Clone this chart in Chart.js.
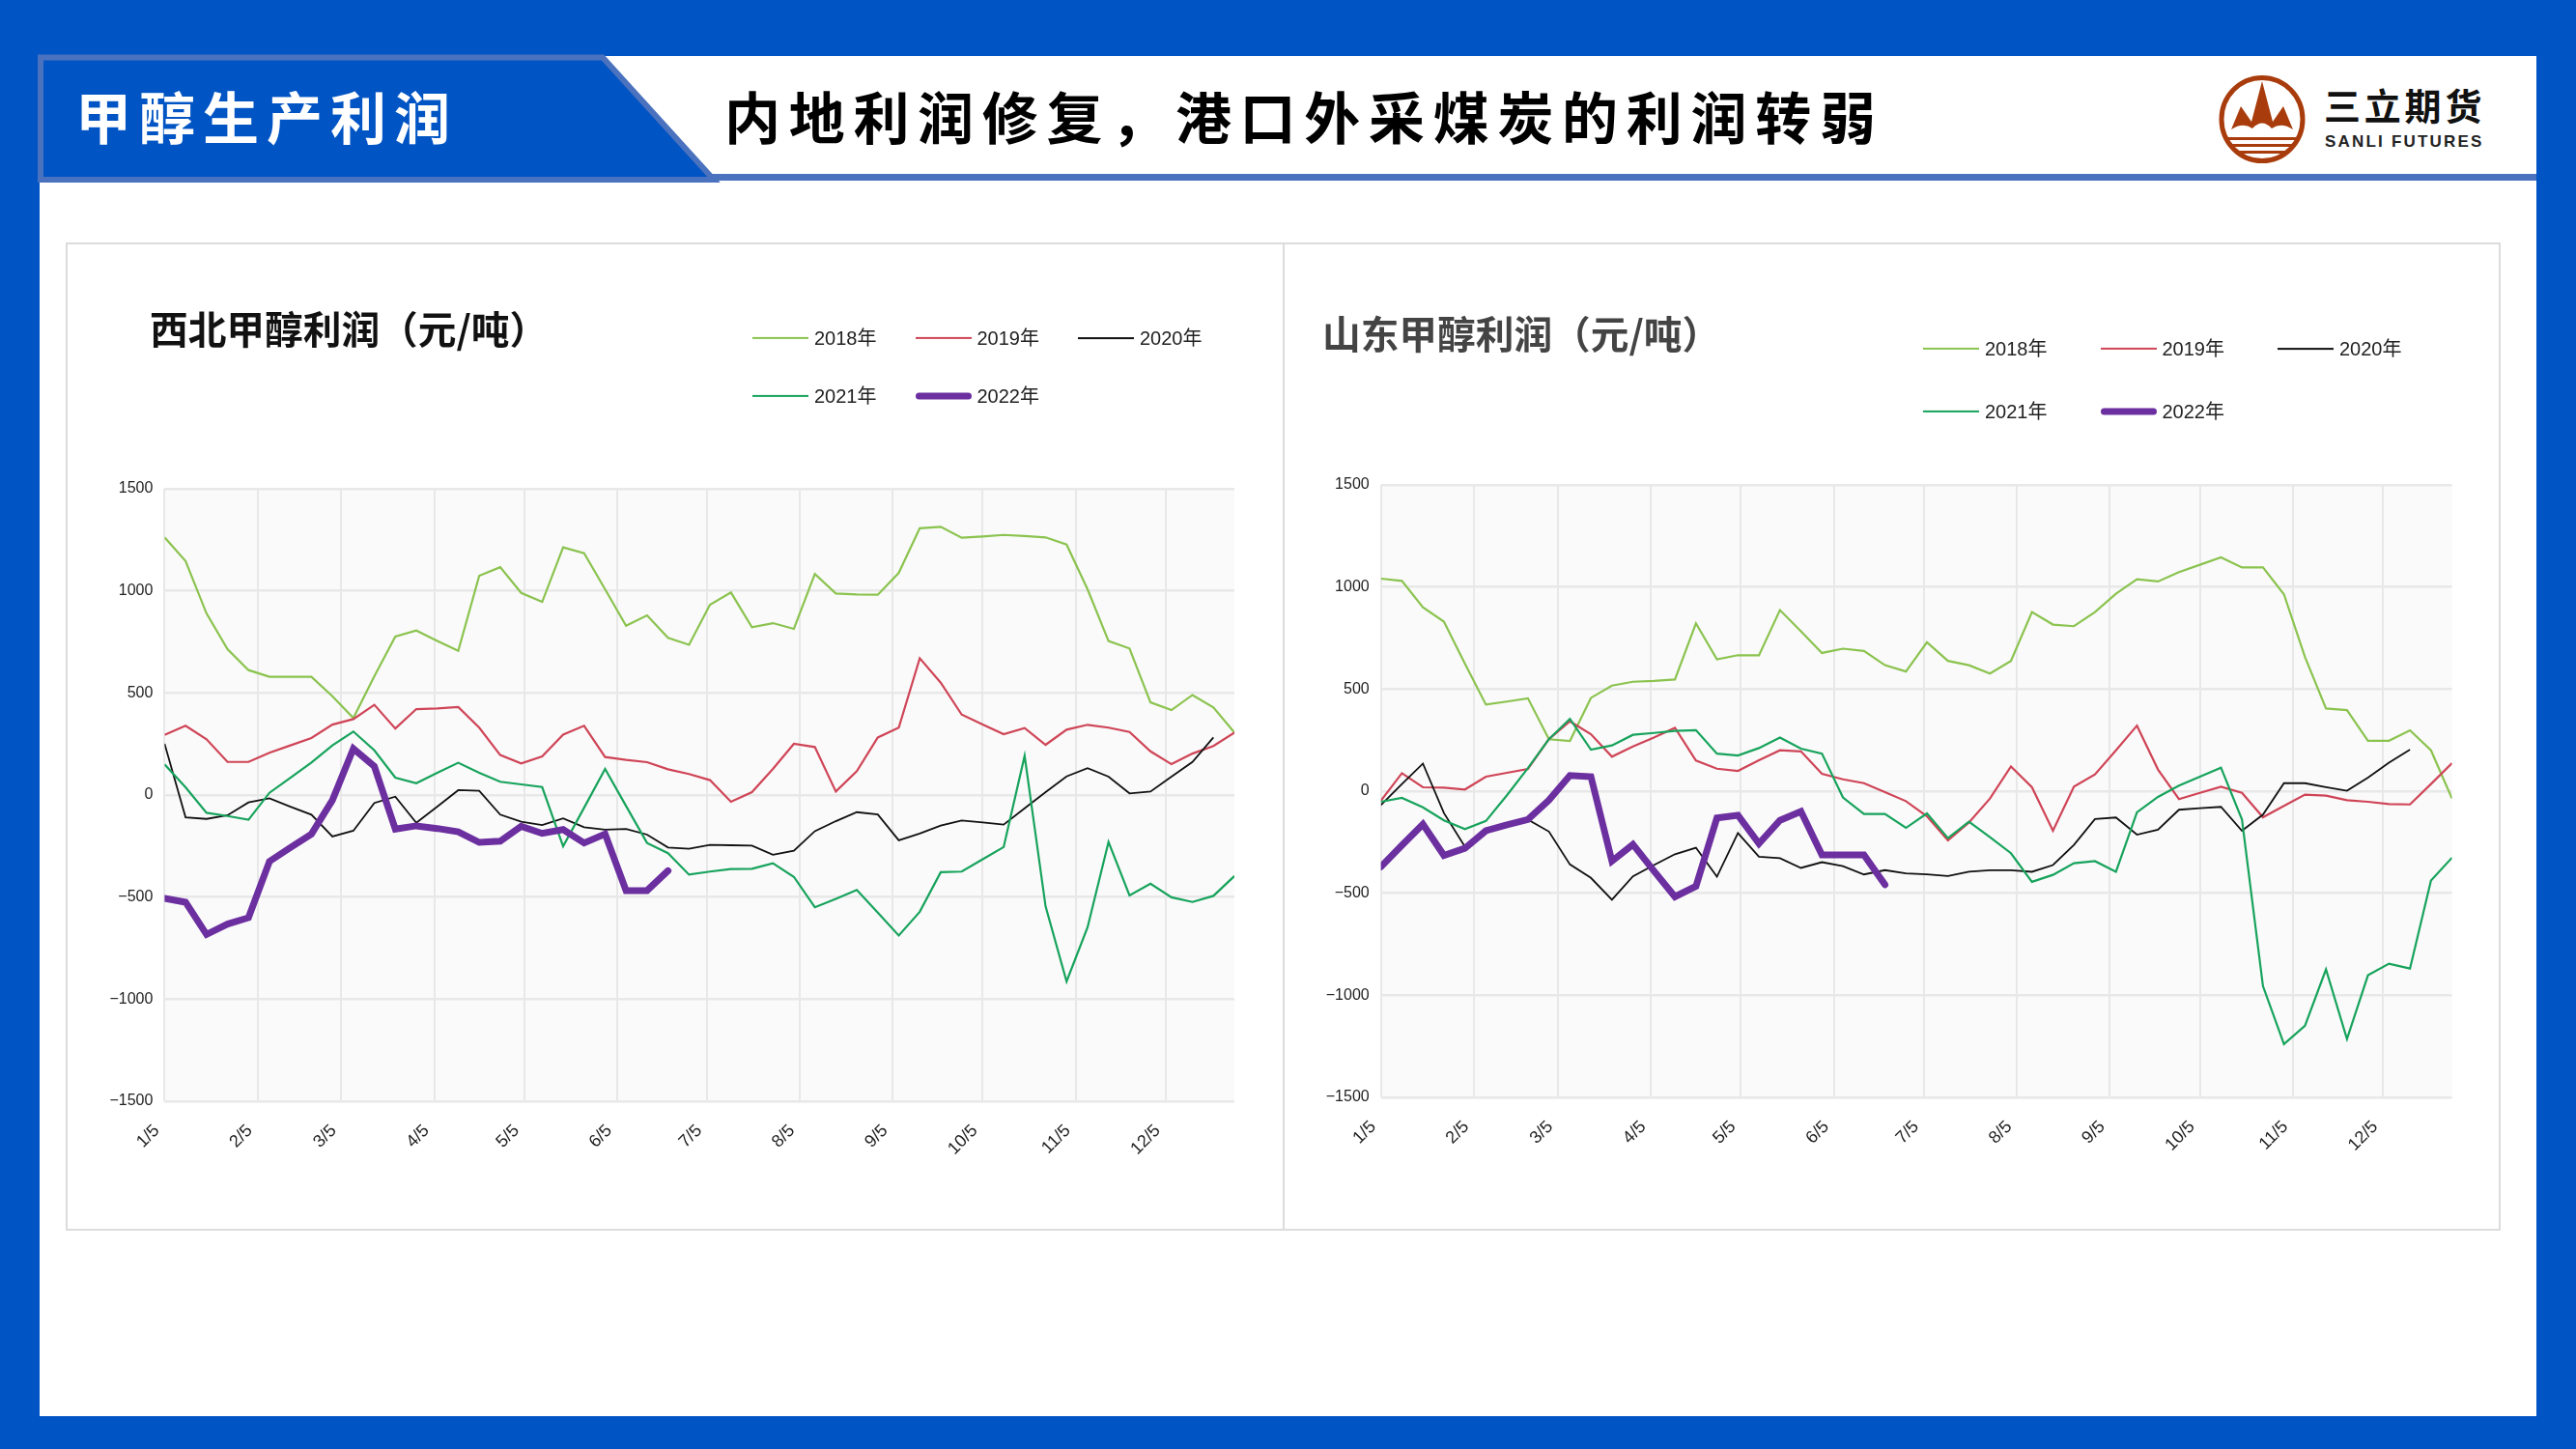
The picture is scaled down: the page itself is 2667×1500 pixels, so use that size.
<!DOCTYPE html>
<html lang="zh">
<head>
<meta charset="utf-8">
<title>甲醇生产利润</title>
<script src="https://cdn.jsdelivr.net/npm/chart.js@4"></script>
<style>
  html, body { margin: 0; padding: 0; }
  body { position: relative; width: 2667px; height: 1500px; overflow: hidden; background: #0054c4; font-family: "Noto Sans CJK SC", sans-serif; }
  .sheet { position: absolute; left: 41px; top: 58px; width: 2585px; height: 1408px; background: #fff; }
  .deco { position: absolute; left: 0; top: 0; }
  .head { position: absolute; white-space: nowrap; font-weight: 700; line-height: 80px; font-size: 58px; top: 79px; }
  #tag { left: 78px; color: #fff; letter-spacing: 8px; }
  #headline { left: 750px; color: #000; letter-spacing: 8.7px; }
  #logoCn { position: absolute; left: 2406px; top: 83px; font-size: 38px; line-height: 50px; font-weight: 700; letter-spacing: 3.8px; color: #111; white-space: nowrap; }
  #logoEn { position: absolute; left: 2407px; top: 137px; font: 700 17px/20px "Liberation Sans", sans-serif; letter-spacing: 2.2px; color: #222; white-space: nowrap; }
  .panel { position: absolute; top: 251px; height: 1023px; box-sizing: border-box; border: 2px solid #dcdcdc; background: #fff; }
  #panelA { left: 68px; width: 1262px; }
  #panelB { left: 1328px; width: 1261px; }
  canvas { position: absolute; left: 0; top: 0; }
  .chartTitle { position: absolute; white-space: nowrap; font-size: 39.7px; line-height: 44px; font-weight: 700; }
  #titleA { left: 155px; top: 317px; color: #111; }
  #titleB { left: 1369px; top: 322px; color: #444; }
  .legend { position: absolute; display: grid; font: 20px/24px "Liberation Sans", "Noto Sans CJK SC", sans-serif; color: #222; }
  #legendA { left: 779px; top: 338px; grid-template-columns: repeat(3, 168.5px); grid-auto-rows: 60px; }
  #legendB { left: 1991px; top: 349px; grid-template-columns: repeat(3, 183.5px); grid-auto-rows: 64.7px; }
  .legendItem { display: flex; align-items: flex-start; height: 24px; white-space: nowrap; }
  .legendLine { display: block; width: 58px; margin: 12px 6px 0 0; transform: translateY(-50%); }
</style>
</head>
<body>
<div class="sheet"></div>
<svg class="deco" width="2667" height="1500">
  <rect x="735" y="180" width="1891" height="7" fill="#4a72be"/>
  <polygon points="42,59.5 624,59.5 739,186 42,186" fill="#0054c4" stroke="#4a72be" stroke-width="6"/>
  <!-- logo -->
  <ellipse cx="2342" cy="123.5" rx="42" ry="43" fill="#fff" stroke="#a83c0c" stroke-width="5"/>
  <path d="M2342 84 L2353 126 L2364 110 L2374 134 Q2362 126 2352 133 Q2342 122 2332 133 Q2322 126 2310 134 L2320 110 L2331 126 Z" fill="#a83c0c"/>
  <g fill="#a83c0c">
    <rect x="2306" y="142" width="72" height="3"/>
    <rect x="2310" y="149" width="64" height="3"/>
    <rect x="2315" y="156" width="54" height="3"/>
  </g>
</svg>
<div class="head" id="tag">甲醇生产利润</div>
<div class="head" id="headline">内地利润修复，港口外采煤炭的利润转弱</div>
<div id="logoCn">三立期货</div>
<div id="logoEn">SANLI FUTURES</div>

<div class="panel" id="panelA"></div>
<div class="panel" id="panelB"></div>
<canvas id="chartA" width="1260" height="1025" style="left:68px;top:249px"></canvas>
<canvas id="chartB" width="1260" height="1025" style="left:1329px;top:249px"></canvas>
<div class="chartTitle" id="titleA">西北甲醇利润（元/吨）</div>
<div class="chartTitle" id="titleB">山东甲醇利润（元/吨）</div>
<div class="legend" id="legendA"></div>
<div class="legend" id="legendB"></div>

<script>
'use strict';
// series names and axis labels
const years = ['2018年', '2019年', '2020年', '2021年', '2022年'];
const monthLabels = ['1/5', '2/5', '3/5', '4/5', '5/5', '6/5', '7/5', '8/5', '9/5', '10/5', '11/5', '12/5'];
const monthDays = [0, 31, 59, 90, 120, 151, 181, 212, 243, 273, 304, 334]; // days after 1/5
const yTicks = [-1500, -1000, -500, 0, 500, 1000, 1500];

// 西北 (weekly values)
const nw2018 = [1262, 1146, 889, 714, 612, 579, 579, 579, 484, 377, 582, 776, 806, 755, 706, 1074, 1116, 990, 946, 1213, 1184, 1008, 829, 880, 770, 736, 932, 992, 822, 842, 814, 1083, 987, 982, 981, 1088, 1307, 1314, 1260, 1266, 1274, 1269, 1262, 1227, 1008, 754, 718, 454, 416, 490, 429, 306];
const nw2019 = [295, 339, 273, 162, 162, 207, 243, 279, 345, 372, 442, 326, 421, 424, 431, 330, 196, 155, 189, 296, 339, 186, 172, 161, 126, 103, 73, -33, 14, 128, 251, 235, 17, 117, 282, 330, 670, 550, 394, 345, 298, 328, 246, 320, 344, 330, 309, 214, 151, 203, 240, 306];
const nw2020 = [251, -109, -117, -99, -36, -16, -57, -96, -203, -175, -39, -8, -136, -57, 24, 21, -96, -131, -147, -114, -158, -170, -166, -194, -257, -263, -244, -246, -248, -293, -273, -177, -128, -84, -95, -222, -189, -150, -125, -134, -145, -65, 14, 91, 132, 90, 8, 17, 90, 162, 282];
const nw2021 = [150, 38, -87, -103, -121, 11, 85, 159, 243, 311, 219, 85, 58, 109, 158, 109, 65, 52, 39, -251, -62, 128, -54, -235, -285, -390, -375, -363, -361, -334, -401, -550, -509, -465, -576, -688, -572, -378, -375, -315, -255, 192, -546, -913, -648, -230, -492, -434, -501, -524, -494, -397];
const nw2022 = [-506, -525, -683, -632, -601, -325, -257, -191, -25, 227, 140, -167, -151, -164, -180, -232, -226, -153, -188, -169, -235, -191, -468, -468, -371];

// 山东
const sd2018 = [1041, 1030, 901, 830, 625, 424, 439, 455, 254, 246, 457, 517, 536, 540, 547, 822, 646, 666, 665, 887, 783, 677, 698, 687, 617, 586, 729, 638, 617, 576, 638, 877, 816, 808, 877, 967, 1038, 1027, 1073, 1109, 1145, 1096, 1096, 964, 657, 405, 397, 247, 247, 298, 200, -36];
const sd2019 = [-47, 88, 19, 17, 8, 71, 90, 109, 255, 342, 279, 169, 219, 263, 310, 150, 110, 99, 151, 200, 195, 85, 58, 39, -5, -49, -123, -241, -154, -36, 121, 19, -194, 22, 82, 200, 321, 106, -39, -8, 22, -8, -128, -72, -17, -22, -44, -52, -63, -65, 35, 137];
const sd2020 = [-68, 35, 135, -107, -272, -197, -168, -139, -198, -359, -425, -532, -417, -362, -309, -277, -419, -205, -321, -328, -376, -348, -367, -408, -387, -403, -408, -416, -395, -387, -387, -395, -362, -263, -137, -129, -213, -189, -91, -83, -77, -194, -115, 39, 39, 20, 2, 66, 140, 203];
const sd2021 = [-52, -33, -79, -143, -186, -146, -20, 113, 255, 354, 203, 224, 276, 285, 295, 299, 184, 175, 211, 263, 208, 184, -31, -112, -112, -180, -109, -230, -150, -225, -304, -444, -410, -353, -343, -395, -104, -28, 27, 71, 115, -139, -955, -1239, -1149, -873, -1214, -902, -845, -869, -438, -326];
const sd2022 = [-370, -265, -162, -315, -280, -194, -165, -139, -44, 77, 71, -343, -261, -391, -517, -466, -131, -118, -257, -143, -99, -312, -312, -312, -458];

// Color Variables
const lineColors = ['#8bc34f', '#cf4557', '#111111', '#17a35c', '#6c2fa0'];
const lineWidths = [2.2, 2.2, 1.8, 2.2, 7];
const gridColor = '#e8e8e8';
const labelColor = '#222';

// grey plot background
const plotBackground = {
  id: 'plotBackground',
  beforeDraw(chart) {
    const { ctx, chartArea: a } = chart;
    ctx.save();
    ctx.fillStyle = '#fafafa';
    ctx.fillRect(a.left, a.top, a.right - a.left, a.bottom - a.top);
    ctx.restore();
  }
};

function buildDatasets(seriesList) {
  return seriesList.map(function (values, i) {
    return {
      label: years[i],
      data: values.map((v, week) => ({ x: week * 7, y: v })),
      borderColor: lineColors[i],
      borderWidth: lineWidths[i],
      borderCapStyle: i === 4 ? 'round' : 'butt',
      pointRadius: 0,
      tension: 0,
      fill: false,
      order: seriesList.length - i
    };
  });
}

function drawChart(id, seriesList, box) {
  return new Chart(document.getElementById(id), {
    type: 'line',
    data: { datasets: buildDatasets(seriesList) },
    plugins: [plotBackground],
    options: {
      responsive: false,
      animation: false,
      devicePixelRatio: 1,
      layout: { padding: { left: 0, top: box.top, right: box.right, bottom: 0 } },
      plugins: {
        legend: { display: false },
        title: { display: false },
        tooltip: { enabled: false }
      },
      scales: {
        x: {
          type: 'linear',
          min: 0,
          max: 357,
          afterBuildTicks(scale) {
            scale.ticks = monthDays.map(d => ({ value: d }));
          },
          afterFit(scale) {
            scale.height = box.axisHeight;
          },
          grid: { color: gridColor, lineWidth: 2, drawTicks: false },
          border: { display: false },
          ticks: {
            autoSkip: false,
            minRotation: 45,
            maxRotation: 45,
            padding: 20,
            labelOffset: -8,
            color: labelColor,
            font: { family: '"Liberation Sans"', size: 18 },
            callback: value => monthLabels[monthDays.indexOf(value)]
          }
        },
        y: {
          min: yTicks[0],
          max: yTicks[yTicks.length - 1],
          afterBuildTicks(scale) {
            scale.ticks = yTicks.map(v => ({ value: v }));
          },
          afterFit(scale) {
            scale.width = box.axisWidth;
          },
          grid: { color: gridColor, lineWidth: 2.5, drawTicks: false },
          border: { display: false },
          ticks: {
            padding: 12,
            color: labelColor,
            font: { family: '"Liberation Sans"', size: 16 },
            callback: value => String(value).replace('-', '−')
          }
        }
      }
    }
  });
}

// legends are plain html so the rows and columns can sit where the picture has them
function buildLegend(id, chart) {
  const box = document.getElementById(id);
  chart.data.datasets.forEach(function (ds) {
    const item = document.createElement('div');
    item.className = 'legendItem';
    const line = document.createElement('span');
    line.className = 'legendLine';
    line.style.height = ds.borderWidth + 'px';
    line.style.background = ds.borderColor;
    if (ds.borderWidth > 3) line.style.borderRadius = ds.borderWidth + 'px';
    item.appendChild(line);
    item.appendChild(document.createTextNode(ds.label));
    box.appendChild(item);
  });
}

const chartA = drawChart('chartA', [nw2018, nw2019, nw2020, nw2021, nw2022], { axisWidth: 102.4, top: 257, right: 50, axisHeight: 134 });
const chartB = drawChart('chartB', [sd2018, sd2019, sd2020, sd2021, sd2022], { axisWidth: 100.7, top: 253, right: 50.4, axisHeight: 138 });
buildLegend('legendA', chartA);
buildLegend('legendB', chartB);
</script>
</body>
</html>
